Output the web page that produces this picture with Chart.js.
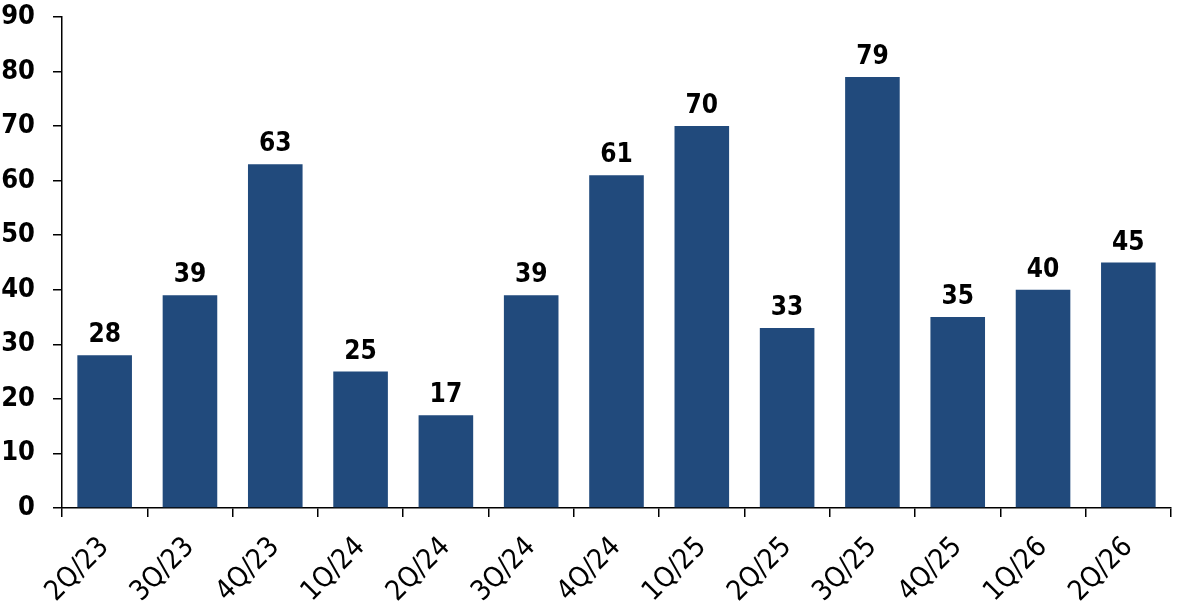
<!DOCTYPE html>
<html lang="en">
<head>
  <meta charset="UTF-8" />
  <title>Quarterly bars</title>
  <script src="https://cdn.jsdelivr.net/npm/chart.js"></script>
  <style>
    html, body {
      margin: 0;
      padding: 0;
      background: #ffffff;
    }
    .wrap {
      width: 1189px;
      height: 612px;
      position: relative;
    }
  </style>
</head>
<body>
  <div class="wrap">
    <canvas id="barChart"></canvas>
  </div>

  <script>
    const quarters = ['2Q/23', '3Q/23', '4Q/23', '1Q/24', '2Q/24', '3Q/24', '4Q/24',
                      '1Q/25', '2Q/25', '3Q/25', '4Q/25', '1Q/26', '2Q/26'];
    const values = [28, 39, 63, 25, 17, 39, 61, 70, 33, 79, 35, 40, 45];
    const yTicks = [0, 10, 20, 30, 40, 50, 60, 70, 80, 90];

    const fontFamily = '"DejaVu Sans Condensed", "DejaVu Sans", sans-serif';

    // draws the numbers above each bar
    const valueLabels = {
      id: 'valueLabels',
      afterDatasetsDraw(chart) {
        const ctx = chart.ctx;
        const meta = chart.getDatasetMeta(0);
        ctx.save();
        ctx.font = 'bold 26px ' + fontFamily;
        ctx.fillStyle = '#000';
        ctx.textAlign = 'center';
        ctx.textBaseline = 'alphabetic';
        meta.data.forEach((bar, i) => {
          ctx.fillText(values[i], bar.x, bar.y - 13);
        });
        ctx.restore();
      }
    };

    new Chart(document.getElementById('barChart'), {
      type: 'bar',
      data: {
        labels: quarters,
        datasets: [{
          data: values,
          backgroundColor: '#214a7c',
          barPercentage: 0.64,
          categoryPercentage: 1
        }]
      },
      options: {
        responsive: true,
        maintainAspectRatio: false,
        animation: false,
        layout: { padding: { top: 17, right: 18, left: 0, bottom: 0 } },
        plugins: {
          legend: { display: false },
          tooltip: { enabled: false }
        },
        scales: {
          x: {
            grid: {
              display: true,
              drawOnChartArea: false,
              drawTicks: true,
              tickLength: 9,
              offset: true,
              color: '#000',
              lineWidth: 1.5
            },
            border: { color: '#000', width: 1.5 },
            ticks: {
              color: '#000',
              font: { family: fontFamily, size: 28 },
              maxRotation: 45,
              minRotation: 45,
              padding: 14
            },
            afterFit(scale) {
              scale.height = 104;
              scale.paddingLeft = 0;
              scale.paddingRight = 0;
            }
          },
          y: {
            min: 0,
            max: 90,
            afterBuildTicks(scale) {
              scale.ticks = yTicks.map(v => ({ value: v }));
            },
            grid: {
              display: true,
              drawOnChartArea: false,
              drawTicks: true,
              tickLength: 9,
              color: '#000',
              lineWidth: 1.5
            },
            border: { color: '#000', width: 1.5 },
            ticks: {
              color: '#000',
              font: { family: fontFamily, size: 27, weight: 'bold' },
              padding: 18
            },
            afterFit(scale) {
              scale.width = 62;
              scale.paddingTop = 0;
              scale.paddingBottom = 0;
            }
          }
        }
      },
      plugins: [valueLabels]
    });
  </script>
</body>
</html>
